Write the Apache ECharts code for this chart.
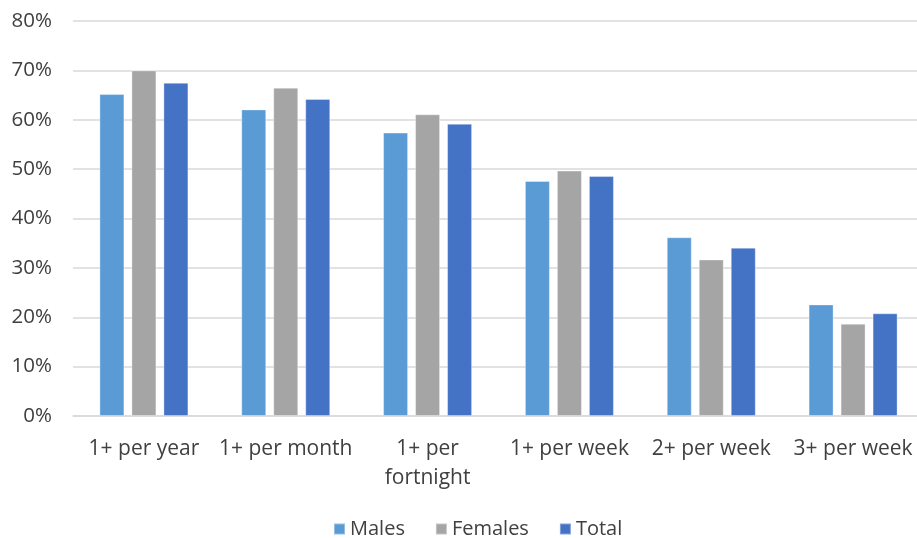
<!DOCTYPE html>
<html>
<head>
<meta charset="utf-8">
<script src="https://cdn.jsdelivr.net/npm/echarts@6/dist/echarts.min.js"></script>
<style>
  html, body { margin: 0; padding: 0; background: #fff; }
  #chart { width: 917px; height: 538px; }
</style>
</head>
<body>
<div id="chart"></div>
<script>
// Share of people by frequency, split by sex (percent)
const categories = ['1+ per year', '1+ per month', '1+ per fortnight', '1+ per week', '2+ per week', '3+ per week'];
const males   = [65.2, 62.1, 57.4, 47.6, 36.2, 22.6];
const females = [70.0, 66.5, 61.1, 49.7, 31.7, 18.7];
const total   = [67.5, 64.2, 59.2, 48.6, 34.1, 20.8];
const yTicks = { min: 0, max: 80, interval: 10 };

const FONT = 'Open Sans';
const TEXT = '#404040';
const GRID = '#d9d9d9';

const chart = echarts.init(document.getElementById('chart'), null, { renderer: 'canvas' });

function barSeries(name, data, color) {
  return {
    name: name,
    type: 'bar',
    data: data,
    barWidth: 25,
    barGap: '28%',
    itemStyle: { color: color, borderColor: 'rgba(255,255,255,0.35)', borderWidth: 1 },
    emphasis: { disabled: true }
  };
}

chart.setOption({
  animation: false,
  textStyle: { fontFamily: FONT },
  // plot area runs slightly past the right edge of the canvas
  grid: { left: 73, width: 851, top: 21, bottom: 122, containLabel: false, outerBoundsMode: 'none' },
  legend: {
    top: 514,
    left: 328,
    itemWidth: 11,
    itemHeight: 11,
    itemGap: 30,
    icon: 'rect',
    textStyle: { fontFamily: FONT, fontSize: 20, color: TEXT },
    data: ['Males', 'Females', 'Total']
  },
  xAxis: {
    type: 'category',
    data: categories,
    axisLine: { show: true, lineStyle: { color: GRID, width: 1.5 } },
    axisTick: { show: false },
    axisLabel: {
      fontFamily: FONT,
      fontSize: 21,
      color: TEXT,
      margin: 19,
      lineHeight: 29,
      interval: 0,
      formatter: function (v) {
        return v.length > 13 ? v.replace(/ (\S+)$/, '\n$1') : v;
      }
    }
  },
  yAxis: {
    type: 'value',
    min: yTicks.min,
    max: yTicks.max,
    interval: yTicks.interval,
    axisLine: { show: false },
    axisTick: { show: false },
    splitLine: { lineStyle: { color: GRID, width: 1.5 } },
    axisLabel: {
      fontFamily: FONT,
      fontSize: 20.5,
      color: TEXT,
      margin: 21,
      formatter: function (v) { return v + '%'; }
    }
  },
  series: [
    barSeries('Males', males, '#5b9bd5'),
    barSeries('Females', females, '#a5a5a5'),
    barSeries('Total', total, '#4472c4')
  ]
});
</script>
</body>
</html>
